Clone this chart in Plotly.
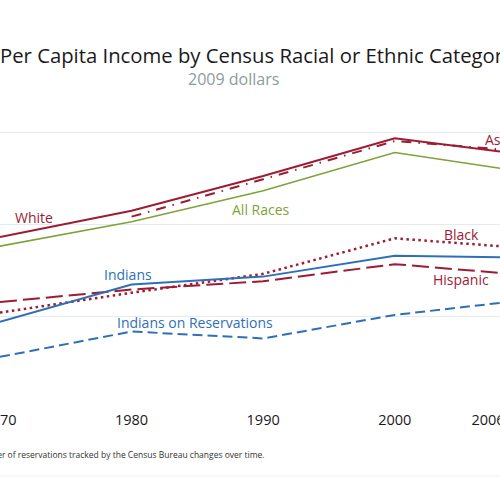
import plotly.graph_objects as go

# ---- data (2009 dollars) ----
years = [1970, 1980, 1990, 2000, 2008]
tick_labels = ["1970", "1980", "1990", "2000", "2006–10"]

white = [18650, 21500, 25250, 29350, 27900]
asian = [None, 20850, 24900, 29050, 28150]
all_races = [17650, 20300, 23650, 27800, 26100]
black = [10450, 12600, 14650, 18500, 17650]
indians = [9450, 13500, 14350, 16600, 16450]
hispanic = [11600, 12950, 13850, 15700, 14750]
indians_res = [5650, 8400, 7650, 10200, 11500]

RED = "#9d1c33"
GREEN = "#7fa23a"
BLUE = "#2f6fb7"
FONT = "Open Sans"

fig = go.Figure()

def add(y, color, dash, width=2.0):
    fig.add_trace(go.Scatter(x=years, y=y, mode="lines",
                             line=dict(color=color, dash=dash, width=width),
                             connectgaps=False, hoverinfo="skip"))

add(all_races, GREEN, "solid", 1.6)
add(white, RED, "solid", 2.0)
add(asian, RED, "10px,7px,1.5px,7px", 2.0)
add(black, RED, "2.5px,3.5px", 2.5)
add(hispanic, RED, "17px,6px", 2.0)
add(indians, BLUE, "solid", 2.0)
add(indians_res, BLUE, "10px,5px", 2.0)

labels = [
    ("White", 1972.6, 20750, RED, "center"),
    ("All Races", 1989.85, 21640, GREEN, "center"),
    ("Indians", 1979.75, 14630, BLUE, "center"),
    ("Indians on Reservations", 1984.8, 9350, BLUE, "center"),
    ("Black", 2005.05, 18960, RED, "center"),
    ("Hispanic", 2005.05, 14080, RED, "center"),
    ("Asian", 2006.7, 29250, RED, "left"),
]
for t, x, y, c, anc in labels:
    fig.add_annotation(text=t, x=x, y=y, xref="x", yref="y", showarrow=False,
                       xanchor=anc, yanchor="middle",
                       font=dict(family=FONT, size=14, color=c))

# subtitle
fig.add_annotation(text="2009 dollars", x=233 / 500, y=(409 - 79) / 369,
                   xref="paper", yref="paper", showarrow=False,
                   xanchor="center", yanchor="middle",
                   font=dict(family=FONT, size=16, color="#8c9c9e"))

# note
fig.add_annotation(text="Note: The number of reservations tracked by the Census Bureau changes over time.",
                   x=267 / 500, y=(409 - 454) / 369, xref="paper", yref="paper",
                   showarrow=False, xanchor="right", yanchor="middle",
                   font=dict(family=FONT, size=8.5, color="#333333"))

fig.add_shape(type="line", xref="paper", yref="paper", x0=0, x1=1,
              y0=(409 - 476) / 369, y1=(409 - 476) / 369,
              line=dict(color="#edf2f3", width=1))

fig.update_layout(
    width=500, height=500,
    margin=dict(l=0, r=0, t=40, b=91, autoexpand=False),
    paper_bgcolor="white", plot_bgcolor="white",
    showlegend=False,
    title=dict(text="Per Capita Income by Census Racial or Ethnic Category",
               x=0, xref="container", xanchor="left",
               y=1 - 56 / 500, yanchor="middle",
               font=dict(family=FONT, size=20.3, color="#1a1a1a")),
    xaxis=dict(range=[1970, 2008], tickvals=years, ticktext=tick_labels,
               showgrid=False, zeroline=False, showline=False, ticks="",
               ticklabeloverflow="allow", automargin=False,
               tickfont=dict(family=FONT, size=14.5, color="#1a1a1a")),
    yaxis=dict(range=[0, 40000], tickvals=[0, 10000, 20000, 30000],
               showticklabels=False, showgrid=True, gridcolor="#e3ebee",
               gridwidth=1, zeroline=False, showline=False, automargin=False),
)

fig.write_html("out.html", config={"displayModeBar": False},
               post_script="document.body.style.margin='0';")
